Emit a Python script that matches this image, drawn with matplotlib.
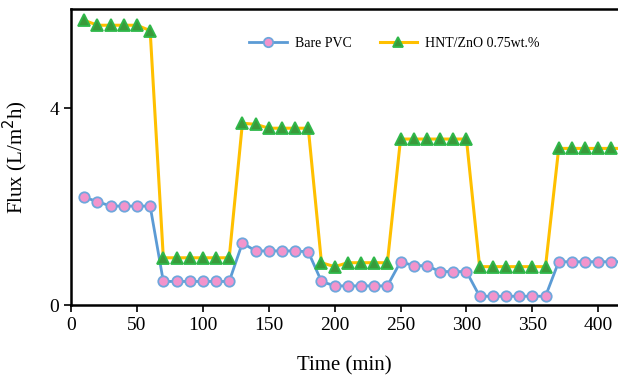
import matplotlib.pyplot as plt

plt.rcParams['font.family'] = ['Liberation Serif', 'DejaVu Serif']

time = [10, 20, 30, 40, 50, 60,
        70, 80, 90, 100, 110, 120,
        130, 140, 150, 160, 170, 180,
        190, 200, 210, 220, 230, 240,
        250, 260, 270, 280, 290, 300,
        310, 320, 330, 340, 350, 360,
        370, 380, 390, 400, 410, 420]

bare_pvc = [2.19, 2.10, 2.01, 2.01, 2.01, 2.01,
            0.48, 0.48, 0.48, 0.48, 0.48, 0.48,
            1.26, 1.10, 1.10, 1.10, 1.10, 1.08,
            0.48, 0.39, 0.39, 0.39, 0.39, 0.39,
            0.88, 0.80, 0.80, 0.68, 0.68, 0.68,
            0.18, 0.18, 0.18, 0.18, 0.18, 0.18,
            0.88, 0.88, 0.88, 0.88, 0.88, 0.88]

hnt_zno = [5.78, 5.68, 5.68, 5.68, 5.68, 5.57,
           0.96, 0.96, 0.96, 0.96, 0.96, 0.96,
           3.69, 3.67, 3.59, 3.59, 3.59, 3.59,
           0.86, 0.78, 0.86, 0.86, 0.86, 0.86,
           3.37, 3.37, 3.37, 3.37, 3.37, 3.37,
           0.78, 0.78, 0.78, 0.78, 0.78, 0.78,
           3.18, 3.18, 3.18, 3.18, 3.18, 3.18]

fig = plt.figure(figsize=(6.18, 3.79), dpi=100)
ax = fig.add_axes([0.115, 0.195, 0.885, 0.78])

ax.plot(time, bare_pvc, color='#5b9bd5', lw=2, marker='o', ms=7.5,
        mfc='#f294cc', mec='#6fa7dc', mew=1.3, label='Bare PVC')
ax.plot(time, hnt_zno, color='#ffc000', lw=2.2, marker='^', ms=8.5,
        mfc='#3a9a3a', mec='#2fb84a', mew=1.3, label='HNT/ZnO 0.75wt.%')

ax.set_xlim(0, 415)
ax.set_ylim(0, 6)
ax.set_xticks(range(0, 401, 50))
ax.set_yticks([0, 4])
ax.tick_params(labelsize=14, width=1.2, length=5)
ax.spines['right'].set_visible(False)
for s in ['left', 'bottom', 'top']:
    ax.spines[s].set_linewidth(1.8)

ax.set_xlabel('Time (min)', fontsize=15, labelpad=16)
ax.set_ylabel('Flux (L/m$^{2}$h)', fontsize=15, labelpad=14)

ax.legend(loc='center left', bbox_to_anchor=(0.303, 0.885), ncol=2,
          frameon=False, fontsize=10, handlelength=2.7, handletextpad=0.6,
          columnspacing=2.0, markerscale=0.9)

fig.savefig('out.png', dpi=100)
